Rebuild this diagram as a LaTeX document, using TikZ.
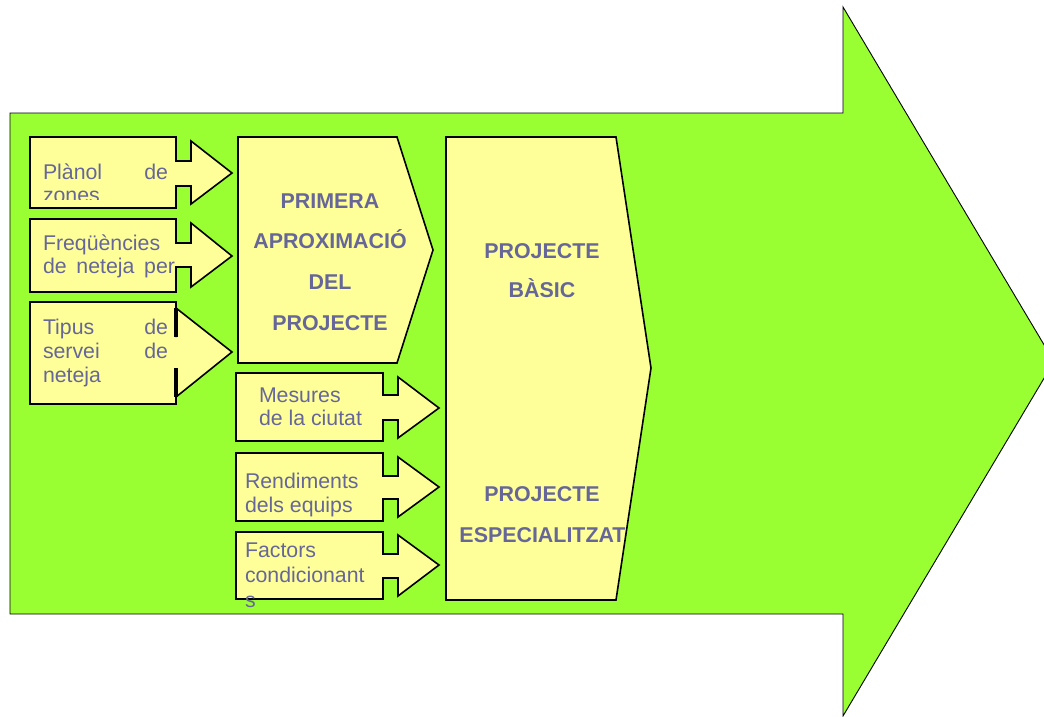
\documentclass[tikz,border=0pt]{standalone}
\usepackage{fontspec}
\setmainfont{Liberation Sans}
\definecolor{flowgreen}{HTML}{99FF33}
\definecolor{boxyellow}{HTML}{FFFF99}
\definecolor{labelblue}{HTML}{666699}
\tikzset{
  bigarrow/.style={fill=flowgreen, draw=black, line width=0.9pt, line join=miter},
  boxshape/.style={fill=boxyellow, draw=black, line width=1.6pt, line join=miter},
  lbl/.style={anchor=base west, inner sep=0pt, outer sep=0pt, text=labelblue,
              font=\fontsize{21.3}{24}\selectfont},
  hdr/.style={anchor=base, inner sep=0pt, outer sep=0pt, text=labelblue,
              font=\fontsize{21.4}{24}\selectfont\bfseries},
}
\begin{document}
\begin{tikzpicture}[x=1pt, y=-1pt]
\useasboundingbox (0,0) rectangle (1044,716);

% the large green process arrow
\begin{scope}
  \clip (0,0) rectangle (1044,716);
  \draw[bigarrow] (10,113) -- (843,113) -- (843,7) -- (1054,361.5)
    -- (843,716) -- (843,614) -- (10,614) -- cycle;
\end{scope}

% final stage
\draw[boxshape] (446,137) -- (616,137) -- (651,368) -- (616,600) -- (446,600) -- cycle;
% first stage
\draw[boxshape] (238,137) -- (397,137) -- (433,250) -- (397,363) -- (238,363) -- cycle;

% inputs to the first stage
\draw[boxshape] (30,137) -- (176,137) -- (176,161) -- (191,161) -- (191,141) -- (232,173)
  -- (191,204) -- (191,186) -- (176,186) -- (176,208) -- (30,208) -- cycle;
\draw[boxshape] (30,219) -- (176,219) -- (176,243) -- (191,243) -- (191,223) -- (232,256)
  -- (191,287) -- (191,267) -- (176,267) -- (176,292) -- (30,292) -- cycle;
\draw[boxshape] (30,302) -- (176,302) -- (176,337) -- (176,308) -- (232,352)
  -- (176,397) -- (176,368) -- (176,404) -- (30,404) -- cycle;
\draw[line width=3.2pt] (176,308) -- (176,337) (176,368) -- (176,397);

% inputs to the final stage
\draw[boxshape] (236,373) -- (383,373) -- (383,395) -- (398,395) -- (398,377) -- (439,408)
  -- (398,438) -- (398,420) -- (383,420) -- (383,441) -- (236,441) -- cycle;
\draw[boxshape] (236,453) -- (383,453) -- (383,476) -- (398,476) -- (398,457) -- (439,487)
  -- (398,517) -- (398,499) -- (383,499) -- (383,521) -- (236,521) -- cycle;
\draw[boxshape] (236,532) -- (383,532) -- (383,554) -- (398,554) -- (398,535) -- (439,565)
  -- (398,596) -- (398,578) -- (383,578) -- (383,599) -- (236,599) -- cycle;

% input labels
\begin{scope}
  \clip (30,137) rectangle (176,199);
  \node[lbl] (pa) at (43,179) {\makebox[125pt][s]{Plànol de}};
  \node[lbl] (pb) at (43,202.5) {zones};
\end{scope}
\node[lbl] (fa) at (43,250) {Freqüències};
\node[lbl] (fb) at (43,273) {\makebox[132pt][s]{de neteja per}};
\node[lbl] (ta) at (43,334) {\makebox[125pt][s]{Tipus de}};
\node[lbl] (tb) at (43,358) {\makebox[125pt][s]{servei de}};
\node[lbl] (tc) at (43,382) {neteja};

\node[lbl] (ma) at (259,402) {Mesures};
\node[lbl] (mb) at (259,425) {de la ciutat};
\node[lbl] (ra) at (245,488) {Rendiments};
\node[lbl] (rb) at (245,512) {dels equips};
\node[lbl] (ca) at (245,557) {Factors};
\node[lbl] (cb) at (245,582) {condicionant};
\node[lbl] (cc) at (245,607) {s};

% stage titles
\node[hdr] (h1) at (330,208) {PRIMERA};
\node[hdr] (h2) at (330,248) {APROXIMACIÓ};
\node[hdr] (h3) at (330,289) {DEL};
\node[hdr] (h4) at (330,330) {PROJECTE};

\node[hdr] (b1) at (542,258) {PROJECTE};
\node[hdr] (b2) at (542,297) {BÀSIC};
\node[hdr] (e1) at (542,501) {PROJECTE};
\node[hdr] (e2) at (542.5,542) {ESPECIALITZAT};
\end{tikzpicture}
\end{document}
